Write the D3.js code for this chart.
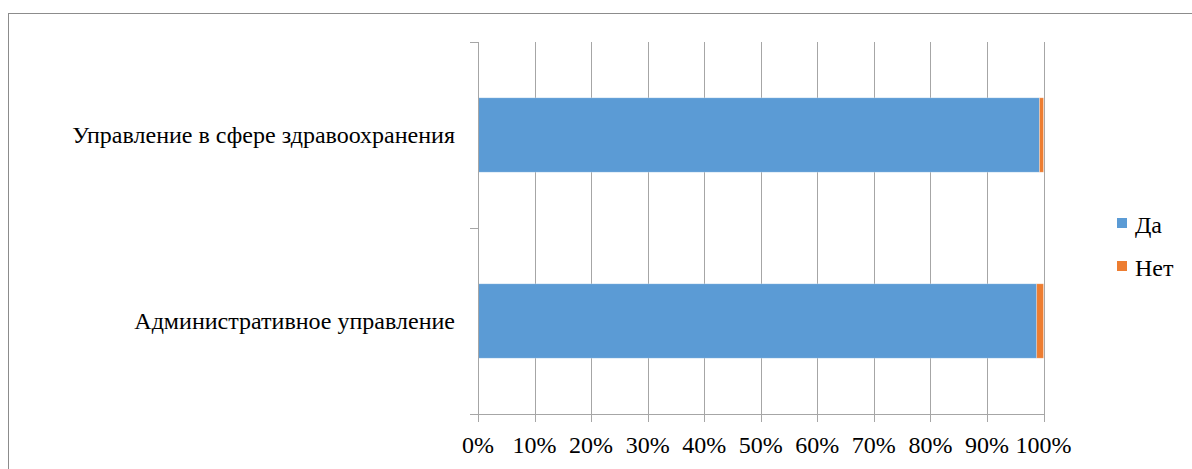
<!DOCTYPE html>
<html><head><meta charset="utf-8">
<script src="https://cdn.jsdelivr.net/npm/d3@7"></script>
</head><body style="margin:0;background:#fff"><svg id="c" width="1192" height="469"></svg>
<script>
const categories = ["Управление в сфере здравоохранения", "Административное управление"];
const seriesNames = ["Да", "Нет"];
const da = [99.3, 98.8];
const net = [0.7, 1.2];
const tickValues = [0,10,20,30,40,50,60,70,80,90,100];
const colors = ["#5b9bd5", "#ed7d31"];
const FONT = "'Liberation Serif'";
const FS = 24;

const svg = d3.select("#c");
svg.append("rect").attr("x",8.5).attr("y",13.5).attr("width",1200).attr("height",500)
  .attr("fill","none").attr("stroke","#8c8c8c").attr("stroke-width",1);

const L = 478, R = 1043.5, T = 42, B = 414;
const x = d3.scaleLinear().domain([0,100]).range([L,R]);
const y = d3.scaleBand().domain(categories).range([T,B]).paddingInner(0.6).paddingOuter(0.3);
const yb = d3.scaleBand().domain(categories).range([T,B]);

svg.append("g").selectAll("line").data(tickValues).join("line")
  .attr("x1",d=>Math.round(x(d))+0.5).attr("x2",d=>Math.round(x(d))+0.5)
  .attr("y1",T).attr("y2",B+8).attr("stroke","#a6a6a6").attr("stroke-width",1);

const rows = categories.map((c,i)=>({c, vals:[da[i], net[i]]}));
rows.forEach(r=>{
  let acc=0;
  r.vals.forEach((v,j)=>{
    svg.append("rect").attr("x",x(acc)).attr("y",y(r.c)).attr("width",x(acc+v)-x(acc))
      .attr("height",y.bandwidth()).attr("fill",colors[j])
      .attr("stroke","#ffffff").attr("stroke-opacity",0.35).attr("stroke-width",0.75);
    acc+=v;
  });
});

svg.append("line").attr("x1",L+0.5).attr("x2",L+0.5).attr("y1",T).attr("y2",B).attr("stroke","#a6a6a6");
const yTicks = [T, yb(categories[1]), B];
svg.append("g").selectAll("line").data(yTicks).join("line")
  .attr("x1",L-8).attr("x2",L).attr("y1",d=>Math.round(d)+0.5).attr("y2",d=>Math.round(d)+0.5)
  .attr("stroke","#a6a6a6");
svg.append("line").attr("x1",L).attr("x2",R+1).attr("y1",B+0.5).attr("y2",B+0.5).attr("stroke","#a6a6a6");

// texts appended directly to svg, each with its own font-family attribute
tickValues.forEach(d=>{
  svg.append("text").attr("x",x(d)).attr("y",453).attr("text-anchor","middle")
    .attr("font-size",FS).attr("font-family",FONT).text(d+"%");
});
categories.forEach(c=>{
  svg.append("text").attr("x",455).attr("y",y(c)+y.bandwidth()/2+8).attr("text-anchor","end")
    .attr("font-size",FS).attr("font-family",FONT).text(c);
});
seriesNames.forEach((s,i)=>{
  const yy = 218 + i*43;
  svg.append("rect").attr("x",1117).attr("y",yy).attr("width",10).attr("height",10).attr("fill",colors[i]);
  svg.append("text").attr("x",1135).attr("y",yy+15).attr("font-size",FS).attr("font-family",FONT).text(s);
});
</script></body></html>
